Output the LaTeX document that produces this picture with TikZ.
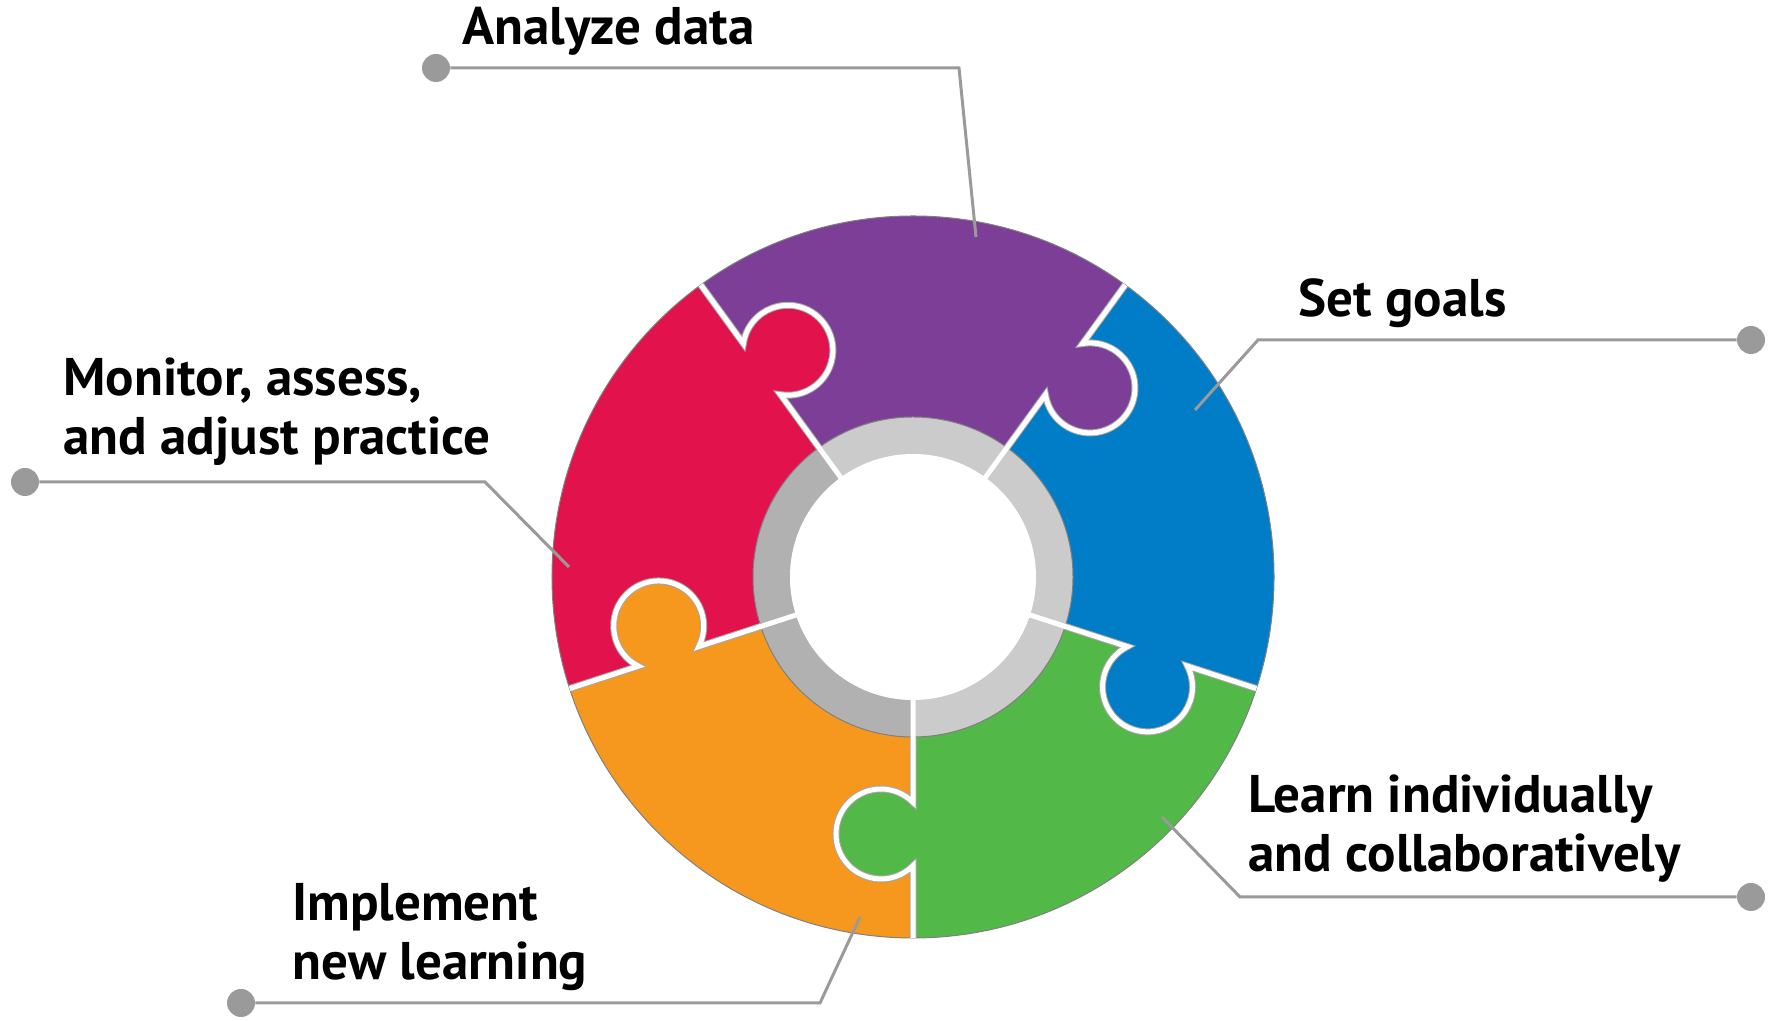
\documentclass[tikz,border=0pt]{standalone}
\usepackage{fontspec}
\setmainfont{PT Sans}
\usepackage{tikz}
\pgfdeclarelayer{bg}
\pgfsetlayers{bg,main}

\definecolor{pgreen}{HTML}{52B848}
\definecolor{pblue}{HTML}{007DC6}
\definecolor{ppurple}{HTML}{7D3E98}
\definecolor{pred}{HTML}{E2124C}
\definecolor{porange}{HTML}{F6981E}
\definecolor{ringlight}{HTML}{CBCBCB}
\definecolor{ringdark}{HTML}{B1B1B1}
\definecolor{leadgray}{HTML}{9A9A9A}

\tikzset{
  slice/.style={insert path={(160,0) -- (361,0) arc[start angle=0, end angle=72, radius=361]
      -- (72:160) arc[start angle=72, end angle=0, radius=160] -- cycle}},
  tabknob/.style={insert path={(257,-32) circle[radius=45]}},
  seam/.style={insert path={(#1,0) -- (225.4,0) arc[start angle=134.6, end angle=405.4, radius=45] -- (361,0)}},
  seamedge/.style={draw=black!35, line width=3.5pt},
  seamgap/.style={draw=white, line width=2.5pt},
  rim/.style={draw=black!50, line width=0.5pt},
  lead/.style={draw=leadgray, line width=1.5pt},
  dot/.style={circle, fill=leadgray, inner sep=0pt, minimum size=14pt},
  lbl/.style={anchor=base west, inner sep=0pt, align=left,
      font=\fontsize{26.5}{29.5}\selectfont\bfseries},
}

\begin{document}
\begin{tikzpicture}[x=0.5pt, y=0.5pt]
        \useasboundingbox (0,0) rectangle (1777,1021);
        \coordinate (c) at (913,444);
        \begin{pgfonlayer}{bg}
        \begin{scope}[shift={(c)}]
                % inner grey ring
                \fill[ringlight] (0,0) circle[radius=160];
                \fill[ringdark] (126:123) arc[start angle=126, end angle=270, radius=123]
                        -- (270:160) arc[start angle=270, end angle=126, radius=160] -- cycle;
                \fill[white] (0,0) circle[radius=123];
                % puzzle pieces
                \fill[pgreen, rotate=270, slice];
                \fill[pblue, rotate=342, slice];
                \fill[ppurple, rotate=54, slice];
                \fill[pred, rotate=126, slice];
                \fill[porange, rotate=198, slice];
                \fill[pgreen, rotate=270, tabknob];
                \fill[pblue, rotate=342, tabknob];
                \fill[ppurple, rotate=54, tabknob];
                \fill[pred, rotate=126, tabknob];
                \fill[porange, rotate=198, tabknob];
                \draw[rim] (0,0) circle[radius=361];
                \draw[rim] (0,0) circle[radius=160];
                % seams
                \draw[seamedge, rotate=270, seam=160];
                \draw[seamedge, rotate=342, seam=160];
                \draw[seamedge, rotate=54, seam=160];
                \draw[seamedge, rotate=126, seam=160];
                \draw[seamedge, rotate=198, seam=160];
                \draw[seamgap, rotate=270, seam=115];
                \draw[seamgap, rotate=342, seam=115];
                \draw[seamgap, rotate=54, seam=115];
                \draw[seamgap, rotate=126, seam=115];
                \draw[seamgap, rotate=198, seam=115];
        \end{scope}
        \end{pgfonlayer}

        \node (dA) [dot] at (436,953) {};
        \node (dS) [dot] at (1751,681) {};
        \node (dM) [dot] at (25,539) {};
        \node (dI) [dot] at (241,18) {};
        \node (dL) [dot] at (1751,124) {};
        \coordinate (kA) at (959,953);
        \coordinate (kS) at (1258,681);
        \coordinate (kM) at (485,539);
        \coordinate (kI) at (820,18);
        \coordinate (kL) at (1240,124);
        \coordinate (eA) at (976,784);
        \coordinate (eS) at (1195,611);
        \coordinate (eM) at (569,454);
        \coordinate (eI) at (860,104);
        \coordinate (eL) at (1162,204);
        \draw[lead] (dA) -- (kA) -- (eA);
        \draw[lead] (dS) -- (kS) -- (eS);
        \draw[lead] (dM) -- (kM) -- (eM);
        \draw[lead] (dI) -- (kI) -- (eI);
        \draw[lead] (dL) -- (kL) -- (eL);

        \node (tA) [lbl] at (462,976) {Analyze data};
        \node (tS) [lbl] at (1298,704) {Set goals};
        \node (tM) [lbl] at (63,566) {Monitor, assess,\\and adjust practice};
        \node (tI) [lbl] at (292,41) {Implement\\new learning};
        \node (tL) [lbl] at (1248,149) {Learn individually\\and collaboratively};
\end{tikzpicture}
\end{document}
